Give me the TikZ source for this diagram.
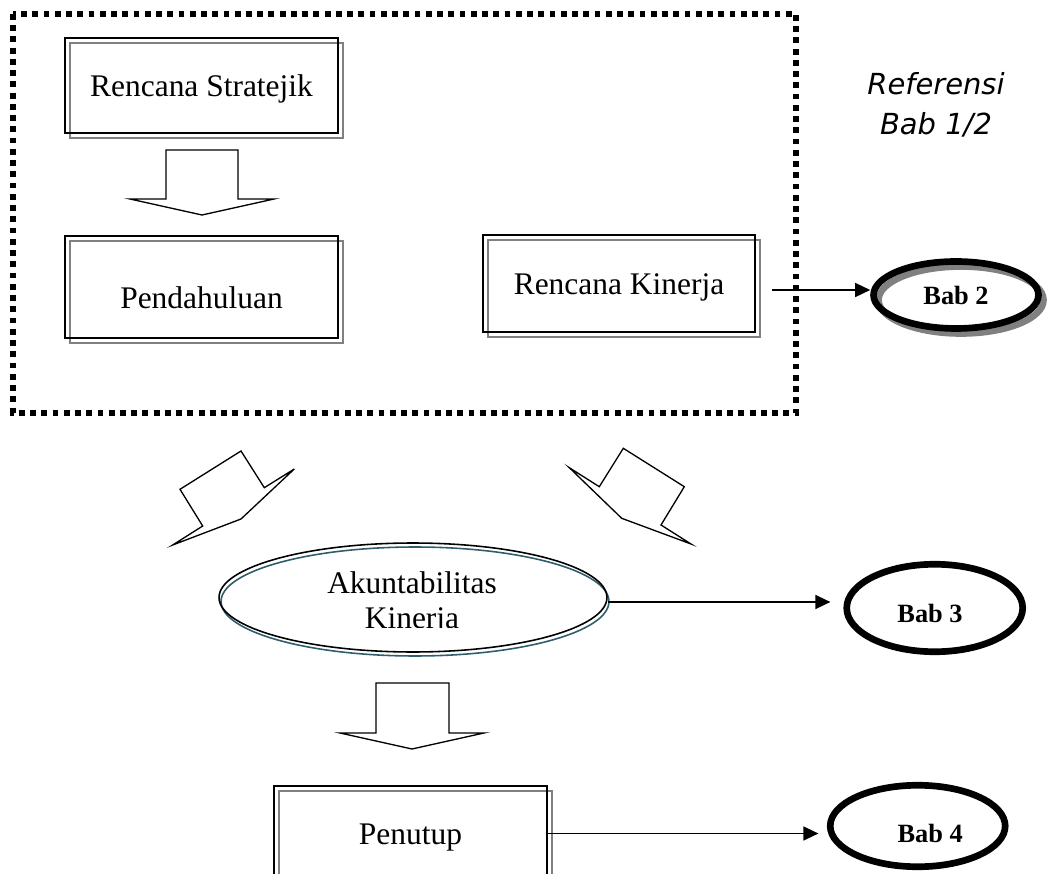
\documentclass[tikz,border=0pt]{standalone}
\usepackage{fontspec}
\setmainfont{Liberation Serif}
\newfontfamily\reffont{DejaVu Sans}
\usepackage{xcolor}
\usepackage{tikz}
\usetikzlibrary{shapes.geometric, arrows.meta, positioning, shadows}
\definecolor{bayang}{RGB}{128,128,128}
\definecolor{tosca}{RGB}{46,94,107}
\tikzset{
    kotak/.style={rectangle, draw, line width=1pt, minimum width=5.46cm, minimum height=1.9cm, inner sep=0pt, text height=13pt, text depth=0pt, font=\fontsize{17.9}{20.4}\selectfont, copy shadow={shadow xshift=0.1cm, shadow yshift=-0.1cm, draw=bayang, fill=none, opacity=1, line width=0.8pt}},
    bab/.style={ellipse, draw, line width=3.8pt, inner sep=0pt, font=\bfseries\fontsize{15}{18}\selectfont},
    babteks/.style={font=\bfseries\fontsize{15}{18}\selectfont, inner sep=0pt},
    panah/.style={-{Triangle[length=0.3cm, width=0.28cm]}, line width=0.9pt},
    blokpanah/.style={draw, line width=0.75pt, fill=white, line join=miter},
    bingkai/.style={line width=3.2pt, dash pattern=on 3.3pt off 3.1pt}
}

\begin{document}
\begin{tikzpicture}[x=0.02cm, y=-0.02cm]
    \clip (0,0) rectangle (1054,874);

    % Referensi frame
    \draw[bingkai] (13,14) rectangle (796,413);
    \node[font=\reffont\itshape\fontsize{16.5}{22.8}\selectfont, align=center] (ref) at (936,105) {Referensi\\Bab 1/2};

    % Boxes
    \node[kotak] (stratejik) at (201.5,85.5) {Rencana Stratejik};
    \node[kotak, minimum height=2.04cm, text height=24pt] (pendahuluan) at (201.5,287) {Pendahuluan};
    \node[kotak, minimum width=5.44cm, minimum height=1.94cm] (kinerja) at (619,283.5) {Rencana Kinerja};
    \node[kotak] (penutup) at (410.5,833.5) {Penutup};

    % Akuntabilitas
    \node[ellipse, draw, line width=0.9pt, minimum width=7.76cm, minimum height=2.18cm, copy shadow={shadow xshift=0.04cm, shadow yshift=-0.08cm, draw=tosca, fill=none, opacity=1, line width=0.9pt}] (akun) at (413,597.5) {};
    \begin{scope}
        \clip (250,560) rectangle (580,627);
        \node[font=\fontsize{17.9}{20.4}\selectfont, align=center, inner sep=0pt] (akuntxt) at (412,603.5) {Akuntabilitas\\Kinerja};
    \end{scope}

    % Bab
    \node[bab, minimum width=3.3cm, minimum height=1.34cm, copy shadow={shadow xshift=0.1cm, shadow yshift=-0.1cm, draw=bayang, fill=none, opacity=1}] (bab2) at (956,295) {Bab 2};
    \node[bab, minimum width=3.52cm, minimum height=1.75cm, label={[babteks, xshift=-0.094cm, yshift=-0.1cm]center:Bab 3}] (bab3) at (934.7,608) {};
    \node[bab, minimum width=3.5cm, minimum height=1.63cm, label={[babteks, xshift=0.25cm, yshift=-0.15cm]center:Bab 4}] (bab4) at (917.7,826) {};

    % Block arrows
    \draw[blokpanah] (166,150) -- (238,150) -- (238,199) -- (274,199) -- (202,215) -- (130,199) -- (166,199) -- cycle;
    \draw[blokpanah] (180,489.3) -- (241,451) -- (264.3,487.7) -- (294.3,469) -- (241,519) -- (172.7,545) -- (202.7,526) -- cycle;
    \draw[blokpanah] (569.3,467.7) -- (599.3,486.7) -- (623.3,448.3) -- (684.3,486.7) -- (661,525) -- (691,544) -- (621.7,518.3) -- cycle;
    \draw[blokpanah] (376,683) -- (449,683) -- (449,733) -- (484,733) -- (412,749) -- (340,733) -- (376,733) -- cycle;

    % Connections
    \draw[panah, shorten <=0.32cm] ([yshift=-0.13cm]kinerja.east) -- ([yshift=-0.13cm]kinerja.east -| bab2.west);
    \draw[panah, shorten >=0.26cm] ([yshift=-0.09cm]akun.east) -- ([yshift=-0.09cm]akun.east -| bab3.west);
    \draw[panah, shorten >=0.17cm] (penutup.east) -- (penutup.east -| bab4.west);
\end{tikzpicture}
\end{document}
